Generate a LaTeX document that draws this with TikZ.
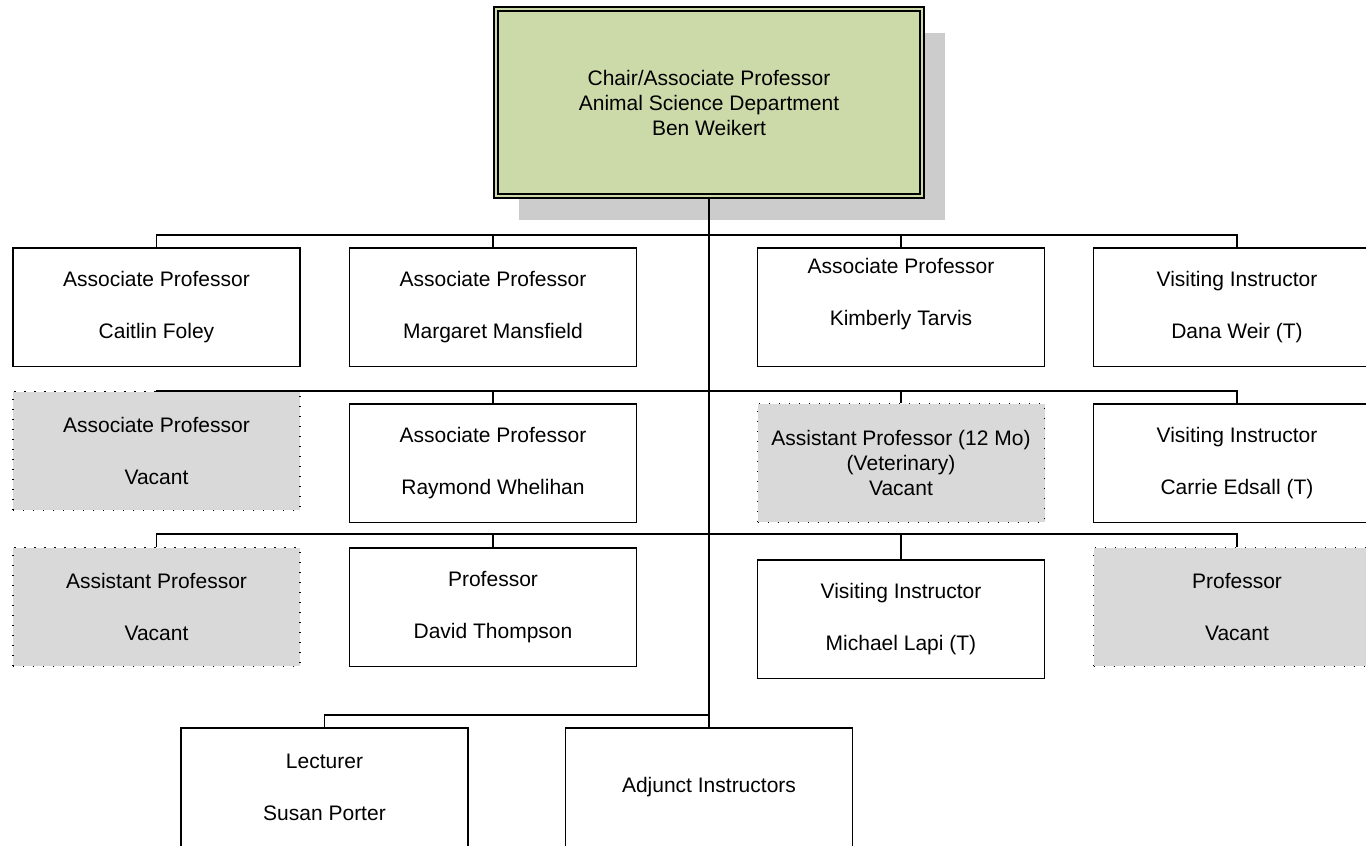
\documentclass[tikz,border=0pt]{standalone}
\usepackage{fontspec}
\setmainfont{Liberation Sans}
\usetikzlibrary{shadows}
\definecolor{chairgreen}{RGB}{204,218,170}
\definecolor{vacantgray}{RGB}{217,217,217}
\definecolor{shadowgray}{RGB}{204,204,204}

\begin{document}
\begin{tikzpicture}[x=0.5pt, y=-0.5pt,
  postbox/.style={draw, line width=0.75pt, fill=white, minimum width=143.5pt, minimum height=59.25pt, align=center, font=\fontsize{10.5}{12.5}\selectfont},
  vacantbox/.style={postbox, fill=vacantgray, line width=0.6pt, dash pattern=on 0.6pt off 4.4pt},
  chairbox/.style={postbox, fill=chairgreen, line width=1pt, double=chairgreen, double distance=1pt, minimum width=213pt, minimum height=93.5pt, drop shadow={shadow xshift=11.5pt, shadow yshift=-12pt, fill=shadowgray, opacity=1}},
  link/.style={line width=0.75pt}]
\useasboundingbox (0,0) rectangle (1366,846);
\clip (0,0) rectangle (1366,846);

\node[chairbox] (chair) at (709,102.5) {Chair/Associate Professor\\Animal Science Department\\Ben Weikert};

\node[postbox] (caitlin) at (156.5,307) {Associate Professor\\[13.5pt]Caitlin Foley};
\node[postbox] (margaret) at (493,307) {Associate Professor\\[13.5pt]Margaret Mansfield};
\node[postbox, text depth=15.2pt] (kimberly) at (901,307) {Associate Professor\\[13.5pt]Kimberly Tarvis};
\node[postbox] (dana) at (1237,307) {Visiting Instructor\\[13.5pt]Dana Weir (T)};

\node[vacantbox] (vacant assoc) at (156.5,451) {Associate Professor\\[13.5pt]Vacant};
\node[postbox] (raymond) at (493,463) {Associate Professor\\[13.5pt]Raymond Whelihan};
\node[vacantbox] (vacant vet) at (901,463) {Assistant Professor (12 Mo)\\(Veterinary)\\Vacant};
\node[postbox] (carrie) at (1237,463) {Visiting Instructor\\[13.5pt]Carrie Edsall (T)};

\node[vacantbox] (vacant asst) at (156.5,607) {Assistant Professor\\[13.5pt]Vacant};
\node[postbox] (david) at (493,607) {Professor\\[13.5pt]David Thompson};
\node[postbox] (michael) at (901,619) {Visiting Instructor\\[13.5pt]Michael Lapi (T)};
\node[vacantbox] (vacant prof) at (1237,607) {Professor\\[13.5pt]Vacant};

\node[postbox] (lecturer) at (324.5,787) {Lecturer\\[13.5pt]Susan Porter};
\node[postbox] (adjunct) at (709,787) {Adjunct Instructors};

\coordinate (bus1) at (709,235);
\coordinate (bus2) at (709,391);
\coordinate (bus3) at (709,534);
\coordinate (bus4) at (709,715);

\draw[link] (chair.south) -- (adjunct.north);
\draw[link] (caitlin.north) |- (bus1) -| (dana.north);
\draw[link] (margaret.north) -- (margaret.north |- bus1);
\draw[link] (kimberly.north) -- (kimberly.north |- bus1);
\draw[link] (vacant assoc.north) |- (bus2) -| (carrie.north);
\draw[link] (raymond.north) -- (raymond.north |- bus2);
\draw[link] (vacant vet.north) -- (vacant vet.north |- bus2);
\draw[link] (vacant asst.north) |- (bus3) -| (vacant prof.north);
\draw[link] (david.north) -- (david.north |- bus3);
\draw[link] (michael.north) -- (michael.north |- bus3);
\draw[link] (lecturer.north) |- (bus4);
\end{tikzpicture}
\end{document}
